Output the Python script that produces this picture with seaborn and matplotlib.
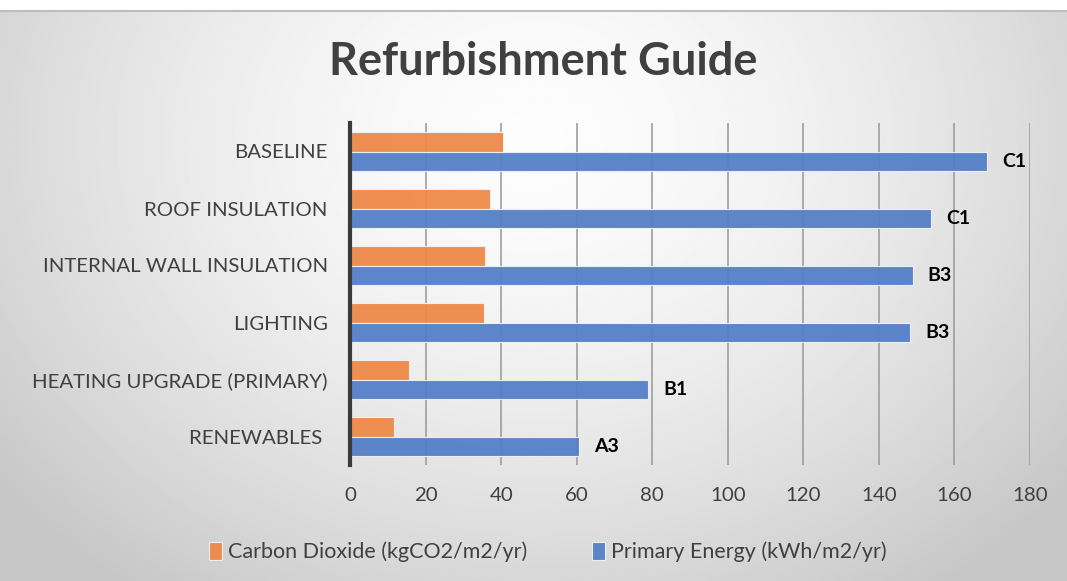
import numpy as np
import pandas as pd
import seaborn as sns
import matplotlib.pyplot as plt

measures = ["BASELINE", "ROOF INSULATION", "INTERNAL WALL INSULATION", "LIGHTING",
            "HEATING UPGRADE (PRIMARY)", "RENEWABLES "]
carbon = [40.6, 37.0, 35.8, 35.6, 15.5, 11.7]
primary = [168.6, 153.8, 148.9, 148.2, 79.0, 60.5]
grades = ["C1", "C1", "B3", "B3", "B1", "A3"]
series_names = ["Carbon Dioxide (kgCO2/m2/yr)", "Primary Energy (kWh/m2/yr)"]
ticks = list(range(0, 181, 20))

df = pd.DataFrame({
    "measure": measures * 2,
    "value": carbon + primary,
    "series": [series_names[0]] * len(measures) + [series_names[1]] * len(measures),
})

plt.rcParams['font.family'] = ['Lato', 'DejaVu Sans']
W, H = 1067, 581
fig = plt.figure(figsize=(W / 100, H / 100), dpi=100)

# radial grey gradient background (light in the middle, darker at the edges)
bg = fig.add_axes([0, 0, 1, (H - 11) / H], zorder=-5)
yy, xx = np.mgrid[0:1:300j, 0:1:560j]
d = np.sqrt(((xx - 0.5) / 0.62) ** 2 + ((yy - 0.22) / 0.95) ** 2)
shade = np.clip(0.99 - 0.20 * d ** 1.6, 0.78, 1)
bg.imshow(shade, cmap='gray', vmin=0, vmax=1, aspect='auto', extent=[0, 1, 1, 0])
bg.set_axis_off()
fig.add_artist(plt.Line2D([0, 1], [(H - 11) / H] * 2, color='#BDBDBD', lw=1.5))

ax = fig.add_axes([350 / W, (H - 465) / H, 680 / W, (465 - 123) / H])
ax.set_facecolor('none')

sns.barplot(data=df, y="measure", x="value", hue="series", orient="h",
            palette=["#EE8A48", "#5580C8"], saturation=1, width=0.7, ax=ax,
            alpha=0.95, edgecolor="#F2F2F2", linewidth=0.8, errorbar=None)

ax.bar_label(ax.containers[1], labels=grades, padding=11, fontsize=14,
             fontweight='bold', color='black')

ax.set_xlim(0, 180)
ax.set_xticks(ticks)
ax.xaxis.grid(True, color='#9E9E9E', lw=1.2)
ax.set_axisbelow(True)
ax.set_xlabel("")
ax.set_ylabel("")
for s in ["top", "right", "bottom"]:
    ax.spines[s].set_visible(False)
ax.spines["left"].set_color("#3A3A3A")
ax.spines["left"].set_linewidth(3)
ax.tick_params(axis='both', length=0, labelsize=14.7, colors='#404040')
ax.tick_params(axis='y', pad=16)
ax.tick_params(axis='x', pad=16)

sns.move_legend(ax, "center", bbox_to_anchor=(548 / W, (H - 552) / H),
                bbox_transform=fig.transFigure, ncol=2, frameon=False, title=None,
                fontsize=15.5, handlelength=0.6, handleheight=0.9, handletextpad=0.3,
                columnspacing=3.0, labelcolor='#404040')

fig.text(543 / W, (H - 62) / H, "Refurbishment Guide", ha='center', va='center',
         fontsize=32.5, fontweight='bold', color='#404040')

fig.savefig("out.png", dpi=100)
